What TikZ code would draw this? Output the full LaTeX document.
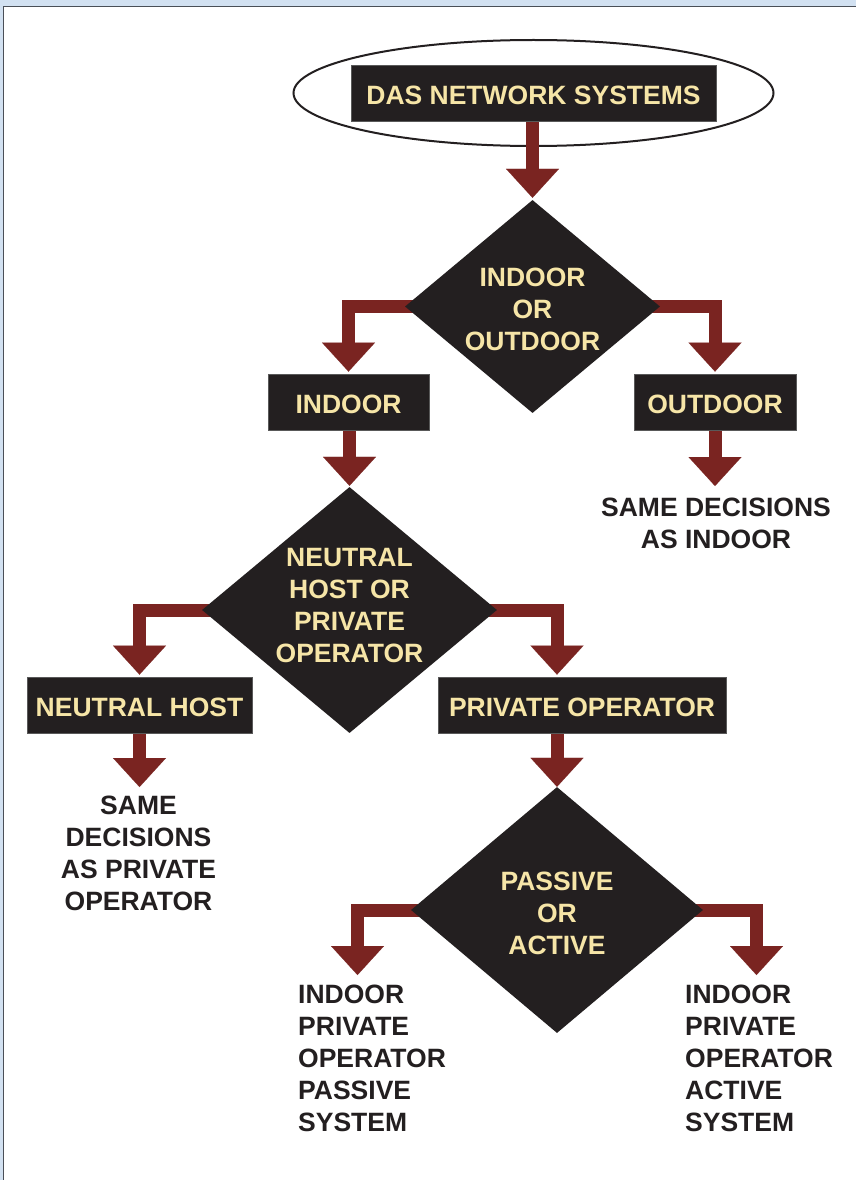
\documentclass[tikz,border=0pt]{standalone}
\usepackage{fontspec}
\setmainfont{Liberation Sans}
\usetikzlibrary{arrows.meta,shapes.geometric}
\pgfdeclarelayer{bglayer}
\pgfdeclarelayer{arlayer}
\pgfsetlayers{bglayer,arlayer,main}
\definecolor{boxfill}{HTML}{231F20}
\definecolor{cream}{HTML}{F6E5A7}
\definecolor{arrowred}{HTML}{7A2421}
\definecolor{inkdark}{HTML}{231F20}
\definecolor{panelblue}{HTML}{D2E1F1}
\definecolor{panelline}{HTML}{4A4F57}
\begin{document}
\begin{tikzpicture}[x=1pt,y=-1pt,
  lbl/.style={font=\bfseries\fontsize{26.5}{32}\selectfont},
  darkbox/.style={lbl, fill=boxfill, draw=gray!70!black, line width=0.8pt, text=cream, minimum height=56pt, inner sep=0pt, text height=23pt, text depth=0pt},
  decision/.style={diamond, fill=boxfill, inner sep=0pt},
  dtext/.style={lbl, text=cream, align=center, inner sep=0pt},
  plain/.style={lbl, text=inkdark, inner sep=0pt},
  flow/.style={draw=arrowred, line width=13pt, line join=miter, -{Triangle[width=53pt,length=29pt,line width=0.1pt]}}
]
\useasboundingbox (0,0) rectangle (856,1180);
\begin{pgfonlayer}{bglayer}
  \fill[panelblue] (0,0) rectangle (856,1180);
  \draw[fill=white, draw=panelline, line width=1.2pt] (3.5,6.8) rectangle (880,1200);
\end{pgfonlayer}

\node[darkbox, minimum width=365pt] (title) at (533.5,93) {DAS NETWORK SYSTEMS};
\node[decision, minimum width=255pt, minimum height=213pt] (d1) at (532.5,306.5) {};
\node[dtext] (d1t) at (532.5,309) {INDOOR\\OR\\OUTDOOR};
\node[darkbox, minimum width=161pt] (indoor) at (348.5,402) {INDOOR};
\node[darkbox, minimum width=162pt] (outdoor) at (715,402) {OUTDOOR};
\node[plain, align=center, anchor=north] (same1) at (716,498) {SAME DECISIONS\\AS INDOOR};
\node[decision, minimum width=295pt, minimum height=246pt] (d2) at (349.5,610) {};
\node[dtext] (d2t) at (349.5,606) {NEUTRAL\\HOST OR\\PRIVATE\\OPERATOR};
\node[darkbox, minimum width=225pt] (nh) at (139.5,705) {NEUTRAL HOST};
\node[darkbox, minimum width=288pt] (po) at (582,705) {PRIVATE OPERATOR};
\node[plain, align=center, anchor=north] (same2) at (138.5,796) {SAME\\DECISIONS\\AS PRIVATE\\OPERATOR};
\node[decision, minimum width=292pt, minimum height=246pt] (d3) at (557,910) {};
\node[dtext] (d3t) at (557,913) {PASSIVE\\OR\\ACTIVE};
\node[plain, align=left, anchor=north west] (passive) at (298,985) {INDOOR\\PRIVATE\\OPERATOR\\PASSIVE\\SYSTEM};
\node[plain, align=left, anchor=north west] (active) at (685,985) {INDOOR\\PRIVATE\\OPERATOR\\ACTIVE\\SYSTEM};
\coordinate (tpas) at (357.5,975);
\coordinate (tact) at (756.5,975);

\begin{pgfonlayer}{bglayer}
  \draw[inkdark, line width=2pt] (title.center) ellipse [x radius=240, y radius=53];
\end{pgfonlayer}

\begin{pgfonlayer}{arlayer}
  \draw[flow, shorten >=2pt] (title.south -| d1.north) -- (d1.north);
  \draw[flow, shorten >=2pt] ([xshift=20pt]d1.west) -| (indoor.north);
  \draw[flow, shorten >=2pt] ([xshift=-20pt]d1.east) -| (outdoor.north);
  \draw[flow, shorten >=1pt] (indoor.south -| d2.north) -- (d2.north);
  \draw[flow, shorten >=12pt] (outdoor.south) -- (outdoor.south |- same1.north);
  \draw[flow, shorten >=2pt] ([xshift=20pt]d2.west) -| (nh.north);
  \draw[flow, shorten >=2pt] ([xshift=-20pt]d2.east) -| (po.north -| d3.north);
  \draw[flow, shorten >=9pt] (nh.south) -- (nh.south |- same2.north);
  \draw[flow] (po.south -| d3.north) -- (d3.north);
  \draw[flow] ([xshift=20pt]d3.west) -| (tpas);
  \draw[flow] ([xshift=-20pt]d3.east) -| (tact);
\end{pgfonlayer}
\end{tikzpicture}
\end{document}
